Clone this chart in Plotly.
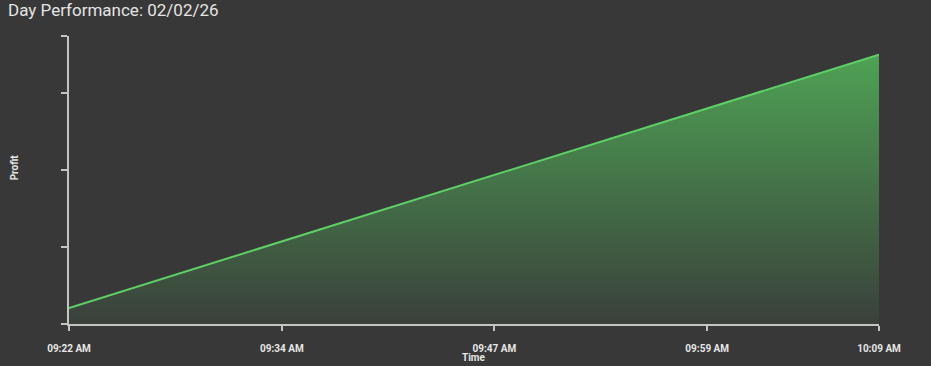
import plotly.graph_objects as go

# Data
times = ["2026-02-02 09:22:00", "2026-02-02 10:09:00"]
profit = [10.4, 174.9]

x_tick_vals = ["2026-02-02 09:22:00", "2026-02-02 09:34:21", "2026-02-02 09:46:41",
               "2026-02-02 09:59:02", "2026-02-02 10:09:00"]
x_tick_text = ["09:22 AM", "09:34 AM", "09:47 AM", "09:59 AM", "10:09 AM"]
y_tick_vals = [0, 50, 100, 150, 187]
y_range = [0, 187]

title_text = "Day Performance: 02/02/26"
x_title = "Time"
y_title = "Profit"

BG = "#383838"
AX = "#c4c4c4"
TXT = "#e6e6e6"
FONT = "Roboto, sans-serif"

fig = go.Figure()
fig.add_trace(go.Scatter(
    x=times, y=profit, mode="lines",
    line=dict(color="#5fcf68", width=2),
    fill="tozeroy",
    fillgradient=dict(type="vertical",
                      colorscale=[[0, "rgb(58,64,59)"], [1, "rgb(78,162,84)"]],
                      start=0, stop=profit[-1]),
    hoverinfo="skip",
))

fig.update_layout(
    width=931, height=366,
    paper_bgcolor=BG, plot_bgcolor=BG,
    margin=dict(l=69, r=52, t=36, b=42),
    showlegend=False,
    font=dict(family=FONT, color=TXT),
    title=dict(text=title_text,
               font=dict(family=FONT, size=17, color="#e4e4e4"),
               xref="container", yref="container", x=8/931, xanchor="left",
               y=1 - 10/366, yanchor="middle", pad=dict(t=0, l=0, b=0)),
    xaxis=dict(
        type="date", range=[times[0], times[-1]],
        tickmode="array", tickvals=x_tick_vals, ticktext=x_tick_text,
        showgrid=False, zeroline=False,
        showline=True, linecolor=AX, linewidth=2,
        ticks="outside", ticklen=5, tickcolor=AX, tickwidth=1.5,
        ticklabelstandoff=9,
        tickfont=dict(family=FONT, size=10, color=TXT, weight="bold"),
    ),
    yaxis=dict(
        range=y_range, tickmode="array", tickvals=y_tick_vals,
        showticklabels=False, showgrid=False, zeroline=False,
        showline=True, linecolor=AX, linewidth=2,
        ticks="outside", ticklen=6, tickcolor=AX, tickwidth=1.5,
    ),
    annotations=[
        dict(text=x_title, xref="paper", yref="paper", x=0.5, y=-0.092,
             xanchor="center", yanchor="top", showarrow=False,
             font=dict(family=FONT, size=10, color=TXT, weight="bold")),
        dict(text=y_title, xref="paper", yref="paper", x=-0.0675, y=0.545,
             xanchor="center", yanchor="middle", showarrow=False, textangle=-90,
             font=dict(family=FONT, size=10, color=TXT, weight="bold")),
    ],
)

fig.write_html("out.html")
